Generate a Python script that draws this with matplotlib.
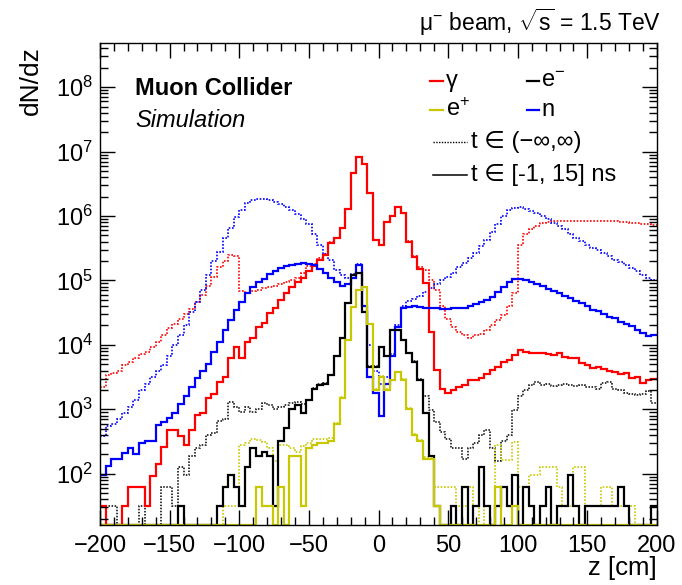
import numpy as np
import matplotlib
matplotlib.use("Agg")
import matplotlib.pyplot as plt
from matplotlib.ticker import LogFormatterMathtext, MultipleLocator, NullFormatter, FixedLocator

plt.rcParams['font.family'] = ['Liberation Sans', 'DejaVu Sans']
plt.rcParams['mathtext.fontset'] = 'custom'
plt.rcParams['mathtext.rm'] = 'Liberation Sans'
plt.rcParams['mathtext.it'] = 'Liberation Sans:italic'
plt.rcParams['mathtext.bf'] = 'Liberation Sans:bold'

# 100 bins of 4 cm from -200 to 200 cm
z_edges = np.linspace(-200, 200, 101)

# photons (gamma)
gamma_all = [2200, 3400, 3600, 4000, 4900, 5500, 6300, 7100, 7800, 9300,
             1.1e4, 1.4e4, 1.8e4, 2.1e4, 2.5e4, 3.0e4, 3.6e4, 4.6e4, 6.0e4, 8.3e4,
             1.15e5, 1.6e5, 2.0e5, 2.5e5, 2.4e5, 6.8e4, 6.3e4, 6.8e4, 7.2e4, 7.6e4,
             7.9e4, 8.3e4, 8.7e4, 9.3e4, 1.0e5, 1.1e5, 1.3e5, 1.7e5, 1.8e5, 2.2e5,
             2.6e5, 3.9e5, 4.6e5, 6.6e5, 1.3e6, 4.6e6, 8.1e6, 6.5e6, 2.3e6, 4.3e5,
             3.6e5, 8.2e5, 1.0e6, 1.4e6, 1.1e6, 4.1e5, 2.4e5, 1.6e5, 1.45e5, 1.0e5,
             7.1e4, 4.0e4, 2.5e4, 1.9e4, 1.6e4, 1.4e4, 1.3e4, 1.4e4, 1.5e4, 1.7e4,
             2.0e4, 2.4e4, 2.9e4, 4.0e4, 6.3e4, 3.5e5, 5.2e5, 6.3e5, 7.1e5, 7.8e5,
             8.1e5, 8.3e5, 8.3e5, 8.3e5, 8.3e5, 8.3e5, 8.3e5, 8.3e5, 8.3e5, 8.3e5,
             8.3e5, 8.3e5, 8.3e5, 8.1e5, 8.1e5, 7.9e5, 7.8e5, 7.6e5, 7.4e5, 7.2e5]
gamma_intime = [31, 0, 0, 0, 31, 63, 63, 63, 31, 93,
                140, 260, 480, 480, 380, 280, 480, 810, 890, 1500,
                1700, 2700, 3200, 6300, 9300, 6300, 1.1e4, 1.3e4, 1.9e4, 2.2e4,
                3.1e4, 3.8e4, 4.9e4, 6.3e4, 7.9e4, 9.5e4, 1.1e5, 1.4e5, 1.7e5, 2.1e5,
                2.5e5, 3.8e5, 4.5e5, 6.5e5, 1.3e6, 4.6e6, 8.1e6, 6.5e6, 2.3e6, 4.2e5,
                3.5e5, 8.1e5, 1.0e6, 1.4e6, 1.1e6, 4.0e5, 2.3e5, 1.5e5, 9.1e4, 1.6e4,
                4100, 2100, 1800, 2000, 2200, 2400, 2900, 2900, 3100, 3500,
                4100, 4600, 5500, 5800, 6900, 8300, 7800, 7600, 7600, 7600,
                7200, 6900, 7600, 6500, 6200, 6200, 5200, 4900, 4400, 4600,
                4200, 4000, 3800, 3500, 3600, 3100, 3200, 2600, 2800, 3000]

# neutrons
neutron_all = [380, 550, 600, 710, 890, 1100, 1400, 2000, 2500, 3200,
               4000, 4900, 6600, 1.0e4, 1.4e4, 2.0e4, 3.2e4, 4.6e4, 7.1e4, 1.2e5,
               2.0e5, 2.8e5, 4.5e5, 6.6e5, 9.5e5, 1.26e6, 1.6e6, 1.8e6, 1.86e6, 1.86e6,
               1.8e6, 1.66e6, 1.55e6, 1.4e6, 1.26e6, 1.07e6, 9.1e5, 7.4e5, 5.2e5, 3.5e5,
               2.6e5, 2.1e5, 1.45e5, 1.2e5, 1.1e5, 1.26e5, 1.8e5, 7.9e4, 1.0e4, 4000,
               2500, 3200, 7100, 2.0e4, 4.0e4, 4.8e4, 5.2e4, 5.8e4, 6.6e4, 7.6e4,
               8.7e4, 1.0e5, 1.15e5, 1.3e5, 1.6e5, 1.86e5, 2.2e5, 2.7e5, 3.4e5, 4.3e5,
               5.6e5, 7.6e5, 1.0e6, 1.23e6, 1.35e6, 1.38e6, 1.29e6, 1.2e6, 1.1e6, 1.0e6,
               8.9e5, 7.9e5, 7.1e5, 6.2e5, 5.2e5, 4.6e5, 4.1e5, 3.6e5, 3.2e5, 3.0e5,
               2.7e5, 2.4e5, 2.1e5, 1.95e5, 1.74e5, 1.55e5, 1.38e5, 1.23e5, 1.1e5, 1.0e5]
neutron_intime = [95, 130, 170, 170, 210, 250, 200, 300, 320, 320,
                  580, 630, 720, 870, 1200, 1600, 2200, 3100, 4000, 5000,
                  7800, 1.1e4, 1.7e4, 2.4e4, 3.5e4, 4.7e4, 6.3e4, 7.9e4, 9.3e4, 1.07e5,
                  1.26e5, 1.4e5, 1.55e5, 1.66e5, 1.74e5, 1.8e5, 1.86e5, 1.8e5, 1.74e5, 1.5e5,
                  1.3e5, 1.1e5, 9.5e4, 8.3e4, 8.7e4, 1.1e5, 1.74e5, 4.0e4, 3200, 1800,
                  780, 2500, 6600, 1.9e4, 3.7e4, 3.9e4, 4.0e4, 3.9e4, 3.8e4, 3.8e4,
                  3.7e4, 3.6e4, 3.6e4, 3.7e4, 3.7e4, 3.8e4, 4.0e4, 4.3e4, 4.6e4, 5.0e4,
                  5.6e4, 6.6e4, 7.9e4, 9.3e4, 1.05e5, 1.07e5, 1.02e5, 9.5e4, 8.7e4, 8.1e4,
                  7.4e4, 6.9e4, 6.3e4, 5.8e4, 5.4e4, 4.8e4, 4.4e4, 4.0e4, 3.5e4, 3.3e4,
                  3.0e4, 2.75e4, 2.6e4, 2.3e4, 2.1e4, 1.95e4, 1.7e4, 1.55e4, 1.35e4, 1.4e4]

# electrons
electron_all = [0, 32, 32, 0, 0, 0, 0, 32, 0, 0,
                0, 63, 63, 32, 126, 95, 190, 250, 280, 400,
                430, 650, 700, 1300, 1100, 900, 1100, 900, 1000, 1250,
                1150, 1000, 1100, 1150, 1250, 1300, 1200, 1400, 2150, 2450,
                2550, 3450, 6700, 1.3e4, 4.4e4, 1.2e5, 1.3e5, 3.2e4, 4700, 4700,
                9400, 6700, 1.7e4, 1.7e4, 1.2e4, 7500, 5600, 3000, 1600, 980,
                630, 450, 350, 250, 250, 170, 250, 300, 400, 480,
                250, 160, 320, 400, 980, 1600, 2000, 2400, 2700, 2400,
                2500, 2300, 2400, 2450, 2400, 2300, 2400, 2200, 2200, 2100,
                2600, 2700, 2100, 2000, 1800, 1750, 1650, 1750, 1900, 1250]
electron_intime = [0, 0, 0, 0, 0, 0, 0, 0, 0, 0,
                   0, 0, 0, 0, 32, 0, 0, 0, 0, 0,
                   0, 32, 63, 95, 63, 32, 126, 250, 190, 220,
                   190, 32, 320, 510, 1000, 1150, 870, 1400, 2100, 2400,
                   2500, 3400, 6600, 1.3e4, 4.4e4, 1.2e5, 1.3e5, 3.2e4, 4600, 4600,
                   9300, 6600, 1.7e4, 1.7e4, 1.2e4, 7400, 5500, 2900, 870, 190,
                   32, 0, 0, 32, 0, 63, 0, 32, 126, 32,
                   0, 32, 63, 32, 95, 0, 63, 32, 0, 32,
                   63, 0, 32, 32, 95, 32, 0, 32, 32, 32,
                   32, 32, 32, 63, 32, 0, 0, 0, 0, 32]

# positrons
positron_all = [0, 0, 0, 0, 0, 0, 0, 0, 0, 0,
                0, 0, 0, 0, 0, 0, 0, 0, 0, 0,
                0, 0, 32, 32, 32, 280, 300, 340, 330, 310,
                250, 160, 280, 280, 250, 220, 270, 300, 340, 350,
                350, 360, 620, 1550, 1.2e4, 3.9e4, 7.1e4, 7.9e4, 2.1e4, 2050,
                3250, 2050, 2850, 3850, 2950, 1050, 410, 330, 180, 180,
                63, 63, 63, 63, 32, 32, 63, 32, 0, 32,
                0, 280, 166, 166, 316, 63, 63, 95, 95, 126,
                126, 126, 63, 32, 32, 126, 126, 32, 32, 32,
                63, 63, 32, 32, 32, 32, 0, 0, 0, 32]
positron_intime = [0, 0, 0, 0, 0, 0, 0, 0, 0, 0,
                   0, 0, 0, 0, 0, 0, 0, 0, 0, 0,
                   0, 0, 0, 0, 0, 0, 0, 0, 63, 32,
                   32, 0, 63, 0, 190, 190, 32, 250, 280, 300,
                   300, 320, 600, 1500, 1.2e4, 3.9e4, 7.1e4, 7.9e4, 2.1e4, 2000,
                   3200, 2000, 2800, 3800, 2900, 1000, 400, 320, 170, 170,
                   32, 0, 0, 0, 0, 0, 0, 0, 0, 0,
                   0, 63, 0, 0, 32, 0, 0, 0, 0, 0,
                   0, 0, 0, 0, 0, 0, 0, 0, 0, 0,
                   0, 0, 0, 0, 0, 0, 0, 0, 0, 0]

ymin, ymax = 16, 4.9e8
RED, BLUE, BLACK, YELLOW = '#ff0000', '#0000ff', '#000000', '#c8c800'

fig = plt.figure(figsize=(6.82, 5.85), dpi=100)
ax = fig.add_axes([100/682, 60/585, 557/682, 482.3/585])

dotted = (0, (1, 1))
series = [
    (gamma_all, RED, dotted, 1.2),
    (neutron_all, BLUE, dotted, 1.2),
    (electron_all, BLACK, dotted, 1.1),
    (positron_all, YELLOW, dotted, 1.2),
    (gamma_intime, RED, '-', 1.6),
    (neutron_intime, BLUE, '-', 1.6),
    (electron_intime, BLACK, '-', 1.6),
    (positron_intime, YELLOW, '-', 1.6),
]
for vals, col, ls, lw in series:
    v = np.maximum(np.array(vals, dtype=float), ymin)
    ax.stairs(v, z_edges, baseline=None, color=col, linestyle=ls, linewidth=lw)

ax.set_xlim(-200, 200)
ax.set_yscale('log')
ax.set_ylim(ymin, ymax)

# only ticks inside the visible range
major_y = [10.0 ** k for k in range(2, 9)]
minor_y = [m * 10.0 ** k for k in range(1, 9) for m in range(2, 10)
           if ymin <= m * 10.0 ** k <= ymax]
ax.xaxis.set_major_locator(MultipleLocator(50))
ax.xaxis.set_minor_locator(MultipleLocator(10))
ax.yaxis.set_major_locator(FixedLocator(major_y))
ax.yaxis.set_minor_locator(FixedLocator(minor_y))
ax.yaxis.set_major_formatter(LogFormatterMathtext())
ax.yaxis.set_minor_formatter(NullFormatter())
ax.tick_params(which='both', direction='in', top=True, right=True, labelsize=17, width=1)
ax.tick_params(which='major', length=11)
ax.tick_params(which='minor', length=6)
ax.tick_params(axis='x', pad=7)
ax.tick_params(axis='y', pad=5)
for s in ax.spines.values():
    s.set_linewidth(1.0)

fig.text(31/682, 1 - 46/585, 'dN/dz', rotation=90, ha='center', va='top', fontsize=19)
fig.text(657/682, 1 - 568/585, 'z [cm]', ha='right', va='center', fontsize=18.5)
fig.text(661/682, 1 - 22/585, r'μ$^{-}$ beam, $\sqrt{\mathrm{s}}$ = 1.5 TeV',
         ha='right', va='center', fontsize=16.5)

ax.text(0.063, 0.906, 'Muon Collider', transform=ax.transAxes, fontsize=17,
        fontweight='bold', va='center', ha='left')
ax.text(0.063, 0.838, 'Simulation', transform=ax.transAxes, fontsize=17,
        fontstyle='italic', va='center', ha='left')

# legend drawn by hand in axes coordinates
def ax_x(px):
    return (px - 100) / 557

def ax_y(py):
    return (525 - py) / 482.3

legend_rows = [
    (RED, '-', 430, 443, 81, 'γ', 446, 1.6),
    (BLACK, '-', 527, 539, 81, r'e$^{-}$', 541, 1.6),
    (YELLOW, '-', 430, 443, 110, r'e$^{+}$', 446, 1.6),
    (BLUE, '-', 527, 539, 110, 'n', 541, 1.6),
    (BLACK, dotted, 433, 467, 142, 't ∈ (−∞,∞)', 471, 1.0),
    (BLACK, '-', 433, 467, 175, 't ∈ [-1, 15] ns', 471, 1.1),
]
for col, ls, x0, x1, y, label, tx, lw in legend_rows:
    ax.plot([ax_x(x0), ax_x(x1)], [ax_y(y), ax_y(y)], transform=ax.transAxes,
            color=col, linestyle=ls, linewidth=lw, clip_on=False)
    ax.text(ax_x(tx), ax_y(y), label, transform=ax.transAxes, fontsize=17,
            va='center', ha='left')

fig.savefig('out.png', dpi=100)
